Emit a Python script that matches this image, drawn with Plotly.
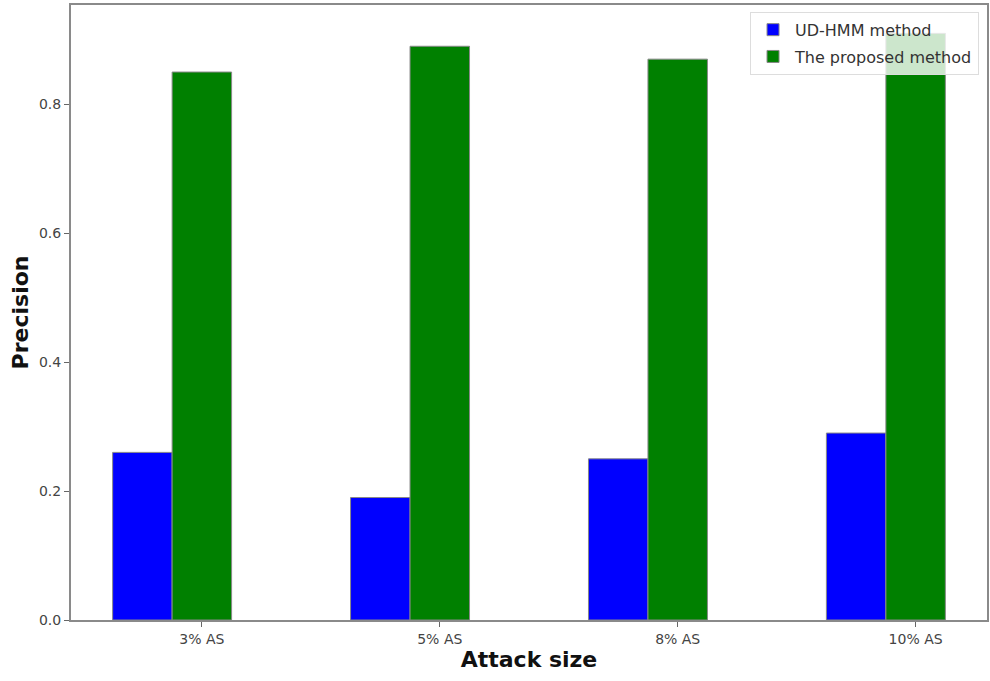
import plotly.graph_objects as go

categories = ["3% AS", "5% AS", "8% AS", "10% AS"]
ud_hmm = [0.26, 0.19, 0.25, 0.29]
proposed = [0.85, 0.89, 0.87, 0.91]
series_names = ["UD-HMM method", "The proposed method"]
y_ticks = [0.0, 0.2, 0.4, 0.6, 0.8]

pos = list(range(len(categories)))
width = 0.25

fig = go.Figure()
fig.add_trace(go.Bar(
    x=[p - width for p in pos], y=ud_hmm, width=width, name=series_names[0],
    legendgroup="a",
    marker=dict(color="#0000ff", line=dict(color="#888888", width=1)),
))
fig.add_trace(go.Bar(
    x=pos, y=proposed, width=width, name=series_names[1],
    legendgroup="b",
    marker=dict(color="#008000", line=dict(color="#888888", width=1)),
))

fig.update_layout(
    width=990, height=681,
    margin=dict(l=71, r=3, t=5, b=61),
    paper_bgcolor="white", plot_bgcolor="white",
    barmode="overlay",
    font=dict(family="DejaVu Sans", color="#444444", size=14),
    xaxis=dict(
        range=[-0.55, 3.3], tickvals=pos, ticktext=categories, automargin=False,
        showline=True, linecolor="#8a8a8a", linewidth=2, mirror=True,
        ticks="outside", ticklen=5, tickcolor="#666666", showgrid=False, zeroline=False,
        title=dict(text="<b>Attack size</b>", font=dict(size=22, color="#111111"), standoff=6),
    ),
    yaxis=dict(
        range=[0, 0.954], tickvals=y_ticks, ticktext=["0.0", "0.2", "0.4", "0.6", "0.8"],
        automargin=False,
        showline=True, linecolor="#8a8a8a", linewidth=2, mirror=True,
        ticks="outside", ticklen=5, tickcolor="#666666", showgrid=False, zeroline=False,
        title=dict(text="<b>Precision</b>", font=dict(size=22, color="#111111"), standoff=4),
    ),
    legend=dict(
        x=0.9913, y=0.989, xanchor="right", yanchor="top",
        bgcolor="rgba(255,255,255,0.8)", bordercolor="#dddddd", borderwidth=1,
        font=dict(size=16, color="#333333"), itemwidth=34,
        traceorder="grouped", tracegroupgap=3,
    ),
)

fig.write_html(
    "out.html",
    config={"displayModeBar": False},
    post_script="document.body.style.margin='0';document.body.style.overflow='hidden';",
)
